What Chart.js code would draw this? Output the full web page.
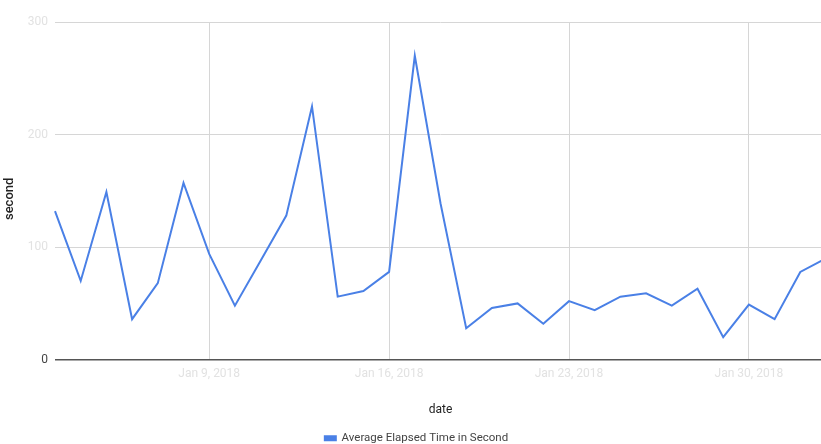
<!DOCTYPE html>
<html>
<head>
<meta charset="utf-8">
<script src="https://cdn.jsdelivr.net/npm/chart.js@4"></script>
<style>
  html, body { margin: 0; padding: 0; background: #fff; overflow: hidden; }
  #wrap { width: 833px; height: 444px; position: relative; }
</style>
</head>
<body>
<div id="wrap"><canvas id="c"></canvas></div>
<script>
// Daily dates of the run log
const dates = [
  "Jan 3, 2018", "Jan 4, 2018", "Jan 5, 2018", "Jan 6, 2018", "Jan 7, 2018",
  "Jan 8, 2018", "Jan 9, 2018", "Jan 10, 2018", "Jan 11, 2018", "Jan 12, 2018",
  "Jan 13, 2018", "Jan 14, 2018", "Jan 15, 2018", "Jan 16, 2018", "Jan 17, 2018",
  "Jan 18, 2018", "Jan 19, 2018", "Jan 20, 2018", "Jan 21, 2018", "Jan 22, 2018",
  "Jan 23, 2018", "Jan 24, 2018", "Jan 25, 2018", "Jan 26, 2018", "Jan 27, 2018",
  "Jan 28, 2018", "Jan 29, 2018", "Jan 30, 2018", "Jan 31, 2018", "Feb 1, 2018",
  "Feb 2, 2018"
];

// Average elapsed time per day, in seconds
const avgElapsed = [
  132, 70, 149, 36, 68, 157, 94, 48, 88, 128,
  225, 56, 61, 78, 270, 139, 28, 46, 50, 32,
  52, 44, 56, 59, 48, 63, 20, 49, 36, 78,
  90
];

// Weekly positions that carry a date label and a vertical grid line
const labelledDays = [6, 13, 20, 27];

// Value axis ticks
const yTicks = [0, 100, 200, 300];

const FONT = "Roboto, 'Liberation Sans', Arial, sans-serif";

// Rotated axis title drawn a little below the axis middle
const yTitlePlugin = {
  id: 'yTitle',
  afterDraw(chart) {
    const { ctx, chartArea } = chart;
    ctx.save();
    ctx.translate(10, (chartArea.top + chartArea.bottom) / 2 + 8);
    ctx.rotate(-Math.PI / 2);
    ctx.textAlign = 'center';
    ctx.textBaseline = 'middle';
    ctx.fillStyle = '#222';
    ctx.font = '500 13px ' + FONT;
    ctx.fillText('second', 0, 0);
    ctx.restore();
  }
};

new Chart(document.getElementById('c'), {
  type: 'line',
  data: {
    labels: dates,
    datasets: [{
      label: 'Average Elapsed Time in Second',
      data: avgElapsed,
      borderColor: '#4a80e6',
      backgroundColor: '#4a80e6',
      borderWidth: 2,
      pointRadius: 0,
      tension: 0,
      fill: false
    }]
  },
  plugins: [yTitlePlugin],
  options: {
    responsive: true,
    maintainAspectRatio: false,
    animation: false,
    layout: { padding: { top: 22, right: 0, left: 0, bottom: -10 } },
    plugins: {
      legend: {
        position: 'bottom',
        labels: {
          boxWidth: 11,
          boxHeight: 4,
          padding: 0,
          color: '#444',
          font: { family: FONT, size: 11.5 }
        }
      },
      tooltip: { enabled: false }
    },
    scales: {
      x: {
        offset: false,
        border: { display: false },
        grid: {
          drawTicks: false,
          color: ctx => labelledDays.includes(ctx.index) ? '#d6d6d6' : 'rgba(0,0,0,0)',
          lineWidth: 1
        },
        ticks: {
          autoSkip: false,
          maxRotation: 0,
          padding: 7,
          color: '#e2e2e2',
          font: { family: FONT, size: 12 },
          callback: function (v, i) { return labelledDays.includes(i) ? dates[i] : ''; }
        },
        title: {
          display: true,
          text: 'date',
          color: '#222',
          font: { family: FONT, size: 12 },
          padding: { top: 15, bottom: 15 }
        }
      },
      y: {
        min: yTicks[0],
        max: yTicks[yTicks.length - 1],
        border: { display: false },
        afterBuildTicks: axis => { axis.ticks = yTicks.map(v => ({ value: v })); },
        afterFit: axis => { axis.width = 55; },
        grid: {
          drawTicks: false,
          color: ctx => ctx.tick && ctx.tick.value === 0 ? '#555' : '#d6d6d6',
          lineWidth: ctx => ctx.tick && ctx.tick.value === 0 ? 1.5 : 1
        },
        ticks: {
          padding: 7,
          color: ctx => ctx.tick && ctx.tick.value === 0 ? '#444' : '#e2e2e2',
          font: { family: FONT, size: 12 }
        },
        title: { display: false }
      }
    }
  }
});
</script>
</body>
</html>
